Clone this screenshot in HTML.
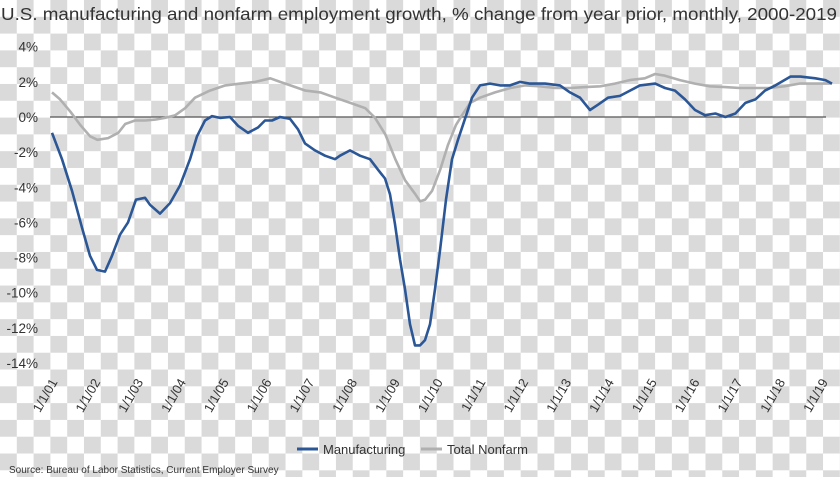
<!DOCTYPE html>
<html><head><meta charset="utf-8"><style>
html,body{margin:0;padding:0}
body{width:840px;height:477px;overflow:hidden;font-family:"Liberation Sans",sans-serif;
background:repeating-conic-gradient(#dadada 0 25%,#ffffff 0 50%) 0 0/33.6px 33.6px;}
</style></head><body>
<svg id="chart" width="840" height="477" xmlns="http://www.w3.org/2000/svg" style="position:absolute;left:0;top:0">
<text x="1" y="20" font-size="17.5" fill="#333" textLength="836" lengthAdjust="spacingAndGlyphs">U.S. manufacturing and nonfarm employment growth, % change from year prior, monthly, 2000-2019</text>
<g id="yaxis"></g>
<g id="xaxis"></g>
<line x1="50" x2="826" y1="117" y2="117" stroke="#555" stroke-width="1.2"/>
<g id="series"></g>
<g>
<line x1="297" x2="318" y1="449" y2="449" stroke="#2b5797" stroke-width="3"/>
<text x="323" y="454" font-size="13" fill="#333">Manufacturing</text>
<line x1="421" x2="442" y1="449" y2="449" stroke="#b0b0b0" stroke-width="3"/>
<text x="447" y="454" font-size="13" fill="#333">Total Nonfarm</text>
</g>
<text x="9" y="473" font-size="10" fill="#333">Source: Bureau of Labor Statistics, Current Employer Survey</text>
</svg>
<script>
const yTicks=[4,2,0,-2,-4,-6,-8,-10,-12,-14];
const xTickYears=[2001,2002,2003,2004,2005,2006,2007,2008,2009,2010,2011,2012,2013,2014,2015,2016,2017,2018,2019];
const mfgDates=[2001.0,2001.234,2001.467,2001.701,2001.888,2002.051,2002.238,2002.402,2002.589,2002.776,2002.963,2003.173,2003.29,2003.523,2003.757,2003.991,2004.224,2004.388,2004.575,2004.738,2004.925,2005.159,2005.346,2005.579,2005.813,2005.977,2006.14,2006.327,2006.561,2006.748,2006.911,2007.145,2007.379,2007.612,2007.729,2007.963,2008.196,2008.43,2008.617,2008.78,2008.897,2009.014,2009.131,2009.248,2009.364,2009.481,2009.598,2009.715,2009.832,2009.949,2010.065,2010.206,2010.346,2010.486,2010.65,2010.813,2011.0,2011.234,2011.467,2011.701,2011.935,2012.168,2012.519,2012.869,2013.103,2013.336,2013.57,2013.757,2013.991,2014.271,2014.505,2014.738,2015.09,2015.322,2015.556,2015.79,2016.023,2016.257,2016.5,2016.734,2016.967,2017.201,2017.435,2017.659,2017.902,2018.252,2018.486,2018.836,2019.07,2019.224];
const mfgValues=[-0.9,-2.4,-4.2,-6.3,-7.9,-8.7,-8.8,-7.9,-6.7,-6.0,-4.7,-4.6,-5.0,-5.5,-4.9,-3.9,-2.4,-1.1,-0.2,0.05,-0.05,0,-0.5,-0.9,-0.6,-0.2,-0.2,0,-0.1,-0.7,-1.5,-1.9,-2.2,-2.4,-2.2,-1.9,-2.2,-2.4,-3.0,-3.5,-4.4,-6.1,-8.1,-9.8,-11.8,-13.0,-13.0,-12.7,-11.8,-9.8,-7.6,-4.7,-2.4,-1.3,-0.1,1.1,1.8,1.9,1.8,1.8,2.0,1.9,1.9,1.8,1.4,1.1,0.4,0.7,1.1,1.2,1.5,1.8,1.9,1.65,1.5,1.0,0.4,0.1,0.2,0,0.2,0.8,1.0,1.5,1.8,2.3,2.3,2.2,2.1,1.9];
const nfDates=[2001.0,2001.19,2001.43,2001.66,2001.89,2002.06,2002.31,2002.55,2002.71,2002.94,2003.18,2003.41,2003.64,2003.88,2004.11,2004.34,2004.69,2005.05,2005.4,2005.75,2006.1,2006.33,2006.57,2006.92,2007.27,2007.62,2007.97,2008.32,2008.55,2008.79,2009.02,2009.25,2009.49,2009.6,2009.72,2009.88,2010.07,2010.25,2010.44,2010.58,2010.77,2011.0,2011.35,2011.71,2012.06,2012.41,2012.76,2013.11,2013.46,2013.81,2014.15,2014.5,2014.85,2015.09,2015.32,2015.67,2016.02,2016.37,2016.72,2017.07,2017.41,2017.76,2018.11,2018.46,2018.83,2019.22];
const nfValues=[1.4,1.0,0.3,-0.45,-1.1,-1.3,-1.2,-0.9,-0.4,-0.2,-0.2,-0.15,-0.05,0.1,0.5,1.1,1.5,1.8,1.9,2.0,2.2,2.0,1.8,1.5,1.4,1.1,0.8,0.5,-0.05,-1.0,-2.4,-3.6,-4.4,-4.8,-4.7,-4.2,-3.0,-1.6,-0.45,0.1,0.8,1.1,1.4,1.65,1.8,1.75,1.65,1.65,1.7,1.75,1.9,2.1,2.2,2.45,2.35,2.1,1.9,1.75,1.7,1.65,1.65,1.65,1.75,1.9,1.9,1.9];
const NS="http://www.w3.org/2000/svg";
function xs(year){return 52+(year-2001)*42.8;}
function ys(v){return 117-v*17.57;}
const yax=document.getElementById('yaxis');
yTicks.forEach(t=>{
  const tx=document.createElementNS(NS,'text');
  
  
  tx.setAttribute('x',38);tx.setAttribute('y',ys(t)+5);
  tx.setAttribute('text-anchor','end');tx.setAttribute('font-size','13.5');tx.setAttribute('fill','#333');
  tx.textContent=t+'%';yax.appendChild(tx);
});
const xax=document.getElementById('xaxis');
xTickYears.forEach(yr=>{
  const tx=document.createElementNS(NS,'text');
  
  
  const x=xs(yr)+6,y=382;
  tx.setAttribute('x',x);tx.setAttribute('y',y);
  tx.setAttribute('text-anchor','end');tx.setAttribute('font-size','13');tx.setAttribute('fill','#333');
  tx.setAttribute('transform','rotate(-60 '+x+' '+y+')');
  tx.textContent='1/1/'+String(yr%100).padStart(2,'0');xax.appendChild(tx);
});
function line(dates,vals,color,name){
  const p=document.createElementNS(NS,'path');
  
  
  p.setAttribute('d',dates.map((d,i)=>(i?'L':'M')+xs(d).toFixed(1)+' '+ys(vals[i]).toFixed(1)).join(' '));
  p.setAttribute('fill','none');p.setAttribute('stroke',color);p.setAttribute('stroke-width','2.6');
  p.setAttribute('stroke-linejoin','round');
  document.getElementById('series').appendChild(p);
}
line(nfDates,nfValues,'#b0b0b0','nonfarm-line');
line(mfgDates,mfgValues,'#2b5797','manufacturing-line');
</script>
</body></html>
